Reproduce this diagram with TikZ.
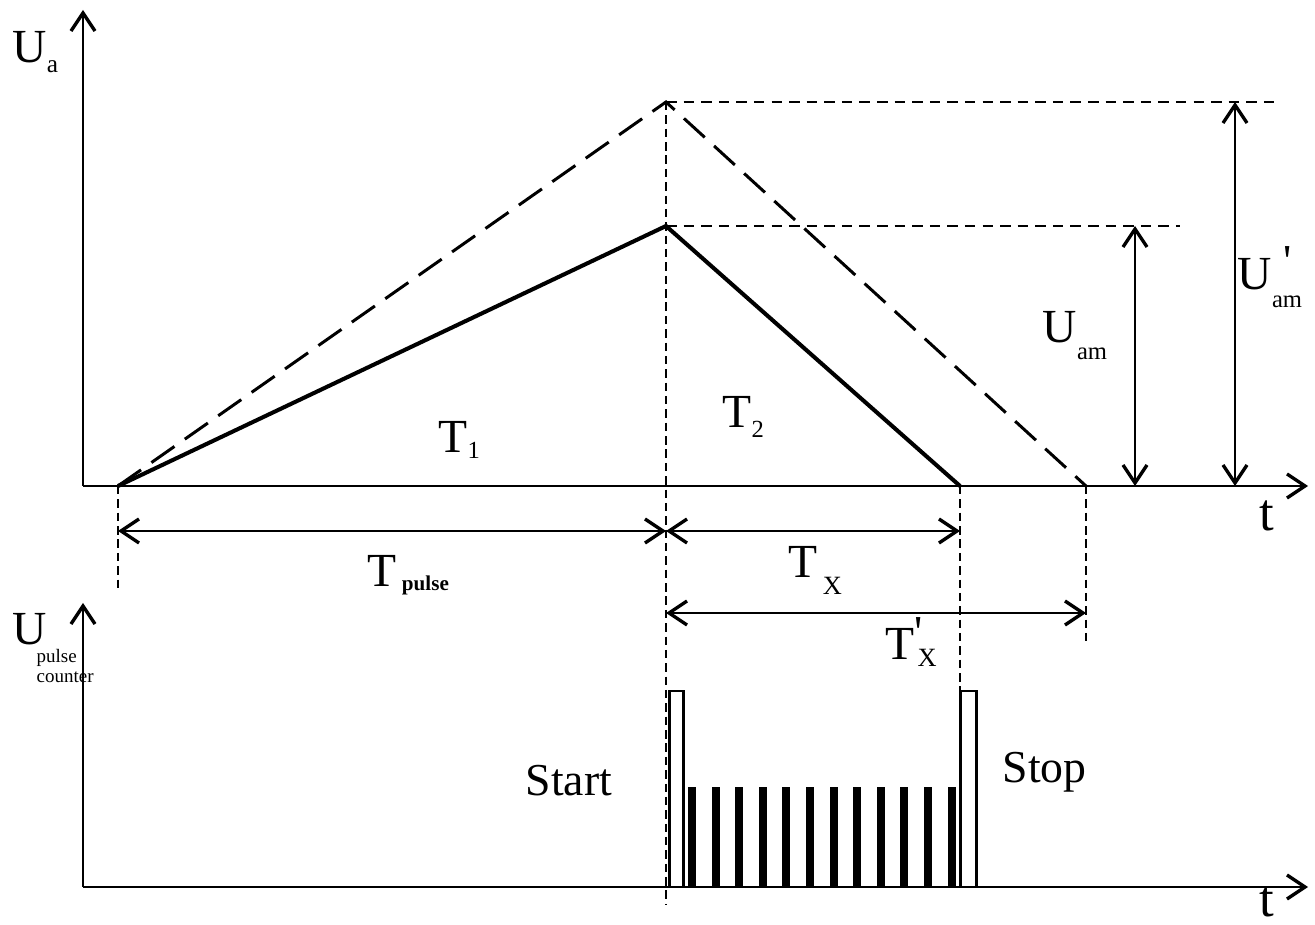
\documentclass[tikz,border=0pt]{standalone}
\usepackage{fontspec}
\setmainfont{Liberation Serif}
\usetikzlibrary{arrows.meta}

% lowered index: [drop]{size}{text}
\newcommand{\lowsub}[3][4.8pt]{\raisebox{-#1}{\fontsize{#2}{#2}\selectfont #3}}
% prime mark: {shift right}{raise}
\newcommand{\upmark}[2]{\rlap{\hspace{#1}\raisebox{#2}{\fontsize{13}{13}\selectfont\textquotesingle}}}

\tikzset{
  barb/.tip={Straight Barb[length=1.8mm,width=2.4mm,line width=0.95pt]},
  axis/.style={line width=0.75pt, -barb},
  dim/.style={line width=0.7pt, barb-barb},
  guide/.style={line width=0.6pt, dash pattern=on 2.4pt off 1.4pt},
  level/.style={line width=0.6pt, dash pattern=on 3pt off 2pt},
  lbl/.style={anchor=base west, inner sep=0pt, font=\fontsize{13.5}{14}\selectfont},
  big/.style={lbl, font=\fontsize{13}{14}\selectfont},
  tiny/.style={anchor=base west, inner sep=0pt, font=\fontsize{5.4}{6}\selectfont}
}

\begin{document}
\begin{tikzpicture}[x=0.01cm, y=-0.01cm]
\useasboundingbox (0,0) rectangle (1315,925);

% Key points of the two ramps
\coordinate (O) at (118,486);
\coordinate (P1) at (666,226);
\coordinate (P2) at (666,102);
\coordinate (E1) at (960,486);
\coordinate (E2) at (1086,486);

% Upper axes
\coordinate (ya0) at (83,486);
\coordinate (ya1) at (83,10);
\coordinate (xa1) at (1308,486);
\draw[axis] (ya0) -- (ya1);
\draw[axis] (ya0) -- (xa1);

% Lower axes
\coordinate (yb0) at (83,887);
\coordinate (yb1) at (83,603);
\coordinate (xb1) at (1308,887);
\draw[axis] (yb0) -- (yb1);
\draw[axis] (yb0) -- (xb1);

% Ramps
\draw[line width=0.85pt, dash pattern=on 8pt off 3.6pt] (O) -- (P2) -- (E2);
\draw[line width=1.15pt, line join=miter] (O) -- (P1) -- (E1);

% Guide lines
\draw[guide] (P2) -- (666,905);
\draw[guide] (O) -- (118,590);
\draw[guide] (E1) -- (960,690);
\draw[guide] (E2) -- (1086,645);
\draw[level] (P2) -- (1278,102);
\draw[level] (P1) -- (1180,226);

% Amplitudes
\draw[dim] (1135,226) -- (1135,486);
\draw[dim] (1235,102) -- (1235,486);

% Time intervals
\draw[dim] (O |- 0,531) -- (P1 |- 0,531);
\draw[dim] (P1 |- 0,531) -- (E1 |- 0,531);
\draw[dim] (P1 |- 0,613) -- (E2 |- 0,613);

% Counter pulses
\draw[line width=0.85pt] (669,887) -- (669,691) -- (683,691) -- (683,887);
\draw[line width=0.85pt] (960,887) -- (960,691) -- (976,691) -- (976,887);
\foreach \i in {0,...,11}
  \fill (688+23.6*\i,787) rectangle ++(8,100);

% Labels
\node[lbl] (ua) at (12,63) {U\lowsub[2.6pt]{7.2}{a}};
\node[lbl] (upc) at (12,645) {U};
\node[tiny] (pc1) at (36,663) {pulse};
\node[tiny] (pc2) at (36,683) {counter};
\node[lbl] (t1) at (438,453) {T\lowsub[1.7pt]{7}{1}};
\node[lbl] (t2) at (722,428) {T\lowsub[2.6pt]{7}{2}};
\node[lbl] (tp) at (367,587) {T\hspace{1.5pt}\lowsub[0.9pt]{6}{\bfseries pulse}};
\node[lbl] (tx) at (788,578) {T\hspace{1.5pt}\lowsub{7.5}{X}};
\node[lbl] (txp) at (885,660) {T\upmark{0pt}{3.6pt}\hspace{0.8pt}\lowsub[1.8pt]{7.5}{X}};
\node[lbl] (uam) at (1042,343) {U\lowsub{7}{am}};
\node[lbl] (uamp) at (1237,290) {U\upmark{3.4pt}{3.8pt}\lowsub[5.1pt]{7}{am}};
\node[lbl, font=\fontsize{15}{15}\selectfont] (ta) at (1259,531) {t};
\node[lbl, font=\fontsize{15}{15}\selectfont] (tb) at (1259,916) {t};
\node[big] (start) at (525,795) {Start};
\node[big] (stop) at (1002,783) {Stop};
\end{tikzpicture}
\end{document}
